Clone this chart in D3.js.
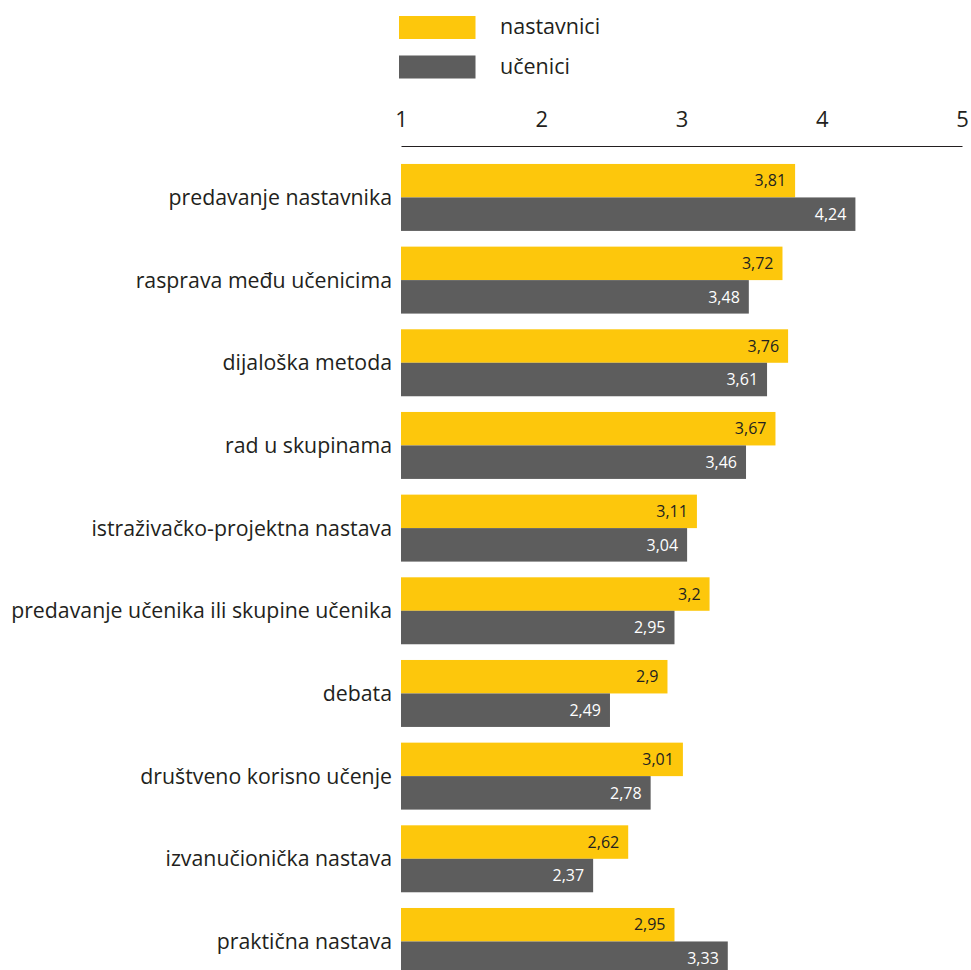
<!DOCTYPE html>
<html>
<head>
<meta charset="utf-8">
<script src="https://cdn.jsdelivr.net/npm/d3@7"></script>
<style>
  html, body { margin: 0; padding: 0; background: #fff; }
  svg { display: block; font-family: "Open Sans", "Noto Sans", sans-serif; }
</style>
</head>
<body>
<svg id="chart" width="971" height="970"></svg>
<script>
// Teaching methods, mean ratings on a 1–5 scale
const categories = [
  "predavanje nastavnika",
  "rasprava među učenicima",
  "dijaloška metoda",
  "rad u skupinama",
  "istraživačko-projektna nastava",
  "predavanje učenika ili skupine učenika",
  "debata",
  "društveno korisno učenje",
  "izvanučionička nastava",
  "praktična nastava"
];
const nastavnici = [3.81, 3.72, 3.76, 3.67, 3.11, 3.2, 2.9, 3.01, 2.62, 2.95];
const ucenici    = [4.24, 3.48, 3.61, 3.46, 3.04, 2.95, 2.49, 2.78, 2.37, 3.33];
const seriesNames = ["nastavnici", "učenici"];
const seriesColors = ["#fdc70c", "#5d5d5d"];
const labelColors = ["#231f20", "#ffffff"];
const tickValues = [1, 2, 3, 4, 5];

const svg = d3.select("#chart");
const fmt = v => String(v).replace(".", ",");

const x = d3.scaleLinear().domain([1, 5]).range([401, 962]);
const y = d3.scaleBand().domain(categories).range([156.1, 982.8])
  .paddingInner(0.19).paddingOuter(0.095);
const ySub = d3.scaleBand().domain(seriesNames).range([0, y.bandwidth()]);

// Legend
const legend = svg.append("g");
seriesNames.forEach((name, i) => {
  const g = legend.append("g").attr("transform", `translate(0, ${i * 39.5})`);
  g.append("rect").attr("x", 399).attr("y", 16).attr("width", 76.5).attr("height", 23)
    .attr("fill", seriesColors[i]);
  g.append("text").attr("x", 500).attr("y", 34).attr("font-size", 21.5)
    .attr("fill", "#231f20").text(name);
});

// Top axis
const axis = svg.append("g").attr("transform", "translate(0,146)")
  .call(d3.axisTop(x).tickValues(tickValues).tickSize(0).tickPadding(19).tickFormat(d3.format("d")));
axis.select(".domain").attr("stroke", "#231f20").attr("stroke-width", 1.2);
axis.selectAll("text").attr("font-size", 22).attr("fill", "#231f20")
  .attr("font-family", "'Open Sans', sans-serif");

// Category labels
svg.append("g").selectAll("text").data(categories).join("text")
  .attr("x", 392)
  .attr("y", d => y(d) + y.bandwidth() / 2)
  .attr("dy", "0.36em")
  .attr("text-anchor", "end")
  .attr("font-size", 21.3)
  .attr("fill", "#231f20")
  .text(d => d);

// Bars
const rows = categories.map((c, i) => ({ c, vals: [nastavnici[i], ucenici[i]] }));
const groups = svg.append("g").selectAll("g").data(rows).join("g")
  .attr("transform", d => `translate(0, ${y(d.c)})`);

groups.selectAll("rect").data(d => d.vals.map((v, i) => ({ v, i })))
  .join("rect")
  .attr("x", x(1))
  .attr("y", d => ySub(seriesNames[d.i]))
  .attr("width", d => x(d.v) - x(1))
  .attr("height", ySub.bandwidth())
  .attr("fill", d => seriesColors[d.i]);

groups.selectAll("text.val").data(d => d.vals.map((v, i) => ({ v, i })))
  .join("text")
  .attr("class", "val")
  .attr("x", d => x(d.v) - 9)
  .attr("y", d => ySub(seriesNames[d.i]) + ySub.bandwidth() / 2)
  .attr("dy", "0.36em")
  .attr("text-anchor", "end")
  .attr("font-size", 16)
  .attr("fill", d => labelColors[d.i])
  .text(d => fmt(d.v));
</script>
</body>
</html>
